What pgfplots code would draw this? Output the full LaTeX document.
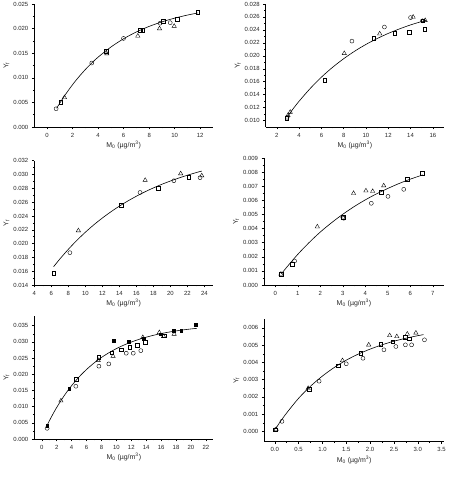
\documentclass[border=0pt]{standalone}
\usepackage{fontspec}
\setmainfont{Liberation Sans}
\usepackage{pgfplots}
\pgfplotsset{compat=1.18}
\pgfplotsset{
  orig/.style={
    scale only axis, anchor=south west,
    axis x line*=bottom, axis y line*=left,
    tick align=outside, major tick length=2.5bp, minor tick length=1.5bp,
    minor x tick num=1, minor y tick num=1,
    tick style={black, line width=0.45pt},
    axis line style={line width=0.6pt},
    /pgf/number format/assume math mode=true,
    ticklabel style={font=\fontsize{6}{7}\selectfont, color=black!85},
    label style={font=\fontsize{7}{8}\selectfont, color=black!85},
    scaled ticks=false,
    y tick label style={/pgf/number format/fixed, /pgf/number format/fixed zerofill, /pgf/number format/precision=3},
    xlabel={M\textsubscript{0} (µg/m\textsuperscript{3})},
    ylabel={Y\textsubscript{f}},
    xlabel style={yshift=3bp},
    ylabel style={yshift=-3bp},
    clip=false,
  },
  pc/.style={only marks, mark=o, mark size=2.0pt, mark options={line width=0.4pt, black}},
  ps/.style={only marks, mark=square, mark size=1.8pt, mark options={line width=0.4pt, black}},
  pt/.style={only marks, mark=triangle, mark size=2.5pt, mark options={line width=0.4pt, black}},
  pf/.style={only marks, mark=square*, mark size=1.2pt, mark options={black, fill=black}},
  fit/.style={no marks, black, line width=0.6pt, smooth},
}
\begin{document}
\begin{tikzpicture}
\useasboundingbox (0bp,0bp) rectangle (449bp,480bp);
% Panel 1
\begin{axis}[orig, at={(34.3bp,353bp)}, width=178.7bp, height=123bp,
  xmin=-1, xmax=13, ymin=0, ymax=0.025, xtick={0,2,...,12}, ytick={0,0.005,...,0.0251}]
\addplot[fit] coordinates {(0.75,0.0038)(1,0.00486)(1.5,0.00683)(2,0.00861)(2.5,0.01022)(3,0.01168)(3.5,0.0130)(4,0.0142)(5,0.01625)(6,0.01794)(7,0.01932)(8,0.02045)(9,0.02137)(10,0.02213)(11,0.02275)(11.8,0.02317)};
\addplot[pc] coordinates {(0.71,0.0037)(3.5,0.0130)(5.99,0.0180)(8.86,0.0211)(9.65,0.0212)};
\addplot[ps] coordinates {(1.07,0.0050)(4.63,0.0154)(7.29,0.0197)(7.5,0.0197)(9.12,0.0215)(10.2,0.0219)(11.79,0.0233)};
\addplot[pt] coordinates {(1.36,0.0060)(4.68,0.0149)(7.11,0.0185)(8.81,0.0200)(9.96,0.0205)};
\end{axis}
% Panel 2
\begin{axis}[orig, at={(265.7bp,353bp)}, width=178.3bp, height=123bp,
  xmin=1, xmax=17, ymin=0.009, ymax=0.028, xtick={2,4,...,16}, ytick={0.010,0.012,...,0.0281}]
\addplot[fit] coordinates {(2.9,0.0105)(3.5,0.0119)(4,0.01299)(5,0.01496)(6,0.0167)(7,0.01822)(8,0.01955)(9,0.02073)(10,0.02176)(11,0.02266)(12,0.02346)(13,0.02415)(14,0.02477)(15,0.0253)(15.4,0.0255)};
\addplot[pc] coordinates {(2.93,0.0105)(8.74,0.02227)(11.65,0.02444)(14.0,0.0259)(15.07,0.0254)};
\addplot[ps] coordinates {(2.9,0.01036)(6.29,0.01619)(10.69,0.02269)(12.58,0.02351)(13.9,0.02362)(15.25,0.02413)(15.1,0.0254)};
\addplot[pt] coordinates {(3.0,0.0108)(3.2,0.0113)(8.05,0.02037)(11.23,0.02341)(14.23,0.02599)(15.31,0.02547)};
\end{axis}
% Panel 3
\begin{axis}[orig, at={(34.3bp,195bp)}, width=178.7bp, height=124.3bp,
  xmin=4, xmax=25, ymin=0.014, ymax=0.032, xtick={4,6,...,24}, ytick={0.014,0.016,...,0.0321}]
\addplot[fit] coordinates {(6.27,0.01665)(7,0.01776)(8,0.01917)(9,0.02046)(10,0.02164)(11,0.02272)(12,0.0237)(13,0.0246)(14,0.02542)(15,0.02617)(16,0.02686)(17,0.02749)(18,0.02806)(19,0.02859)(20,0.02906)(21,0.0295)(22,0.0299)(23,0.03027)(23.68,0.0305)};
\addplot[pc] coordinates {(8.18,0.01868)(16.43,0.0274)(20.4,0.0291)(23.48,0.02954)};
\addplot[ps] coordinates {(6.27,0.01574)(14.2,0.02558)(18.58,0.0280)(22.13,0.02964)};
\addplot[pt] coordinates {(9.18,0.02188)(17.03,0.02918)(21.2,0.03013)(23.68,0.02983)};
\end{axis}
% Panel 4
\begin{axis}[orig, at={(264bp,195bp)}, width=180bp, height=127bp,
  xmin=-0.5, xmax=7.5, ymin=0, ymax=0.009, xtick={0,1,...,7}, ytick={0,0.001,...,0.0091}]
\addplot[fit] coordinates {(0.27,0.00078)(0.5,0.00124)(1,0.00217)(1.5,0.003)(2,0.00375)(2.5,0.00441)(3,0.00501)(3.5,0.00555)(4,0.00603)(4.5,0.00646)(5,0.00684)(5.5,0.00719)(6,0.0075)(6.55,0.0078)};
\addplot[pc] coordinates {(0.86,0.0017)(3.04,0.00473)(3.0,0.0048)(4.27,0.00579)(5.01,0.00628)(5.71,0.00678)};
\addplot[ps] coordinates {(0.27,0.00075)(0.76,0.00149)(3.02,0.0048)(4.72,0.00657)(5.86,0.00751)(6.52,0.00791)};
\addplot[pt] coordinates {(0.25,0.00078)(1.87,0.00413)(3.48,0.0065)(4.03,0.00668)(4.33,0.00664)(4.82,0.00704)};
\end{axis}
% Panel 5
\begin{axis}[orig, at={(34.3bp,41bp)}, width=179bp, height=123bp,
  xmin=-1, xmax=23, ymin=0, ymax=0.038, xtick={0,2,...,22}, ytick={0,0.005,...,0.0351}]
\addplot[fit] coordinates {(0.65,0.0039)(1,0.00553)(1.5,0.00771)(2,0.00974)(3,0.01336)(4,0.01648)(5,0.01917)(6,0.02147)(7,0.02346)(8,0.02518)(9,0.02665)(10,0.02792)(11,0.02901)(12,0.02994)(13,0.03076)(14,0.03145)(15,0.03205)(16,0.03257)(17,0.03301)(18,0.03339)(19,0.03372)(20,0.034)(20.8,0.03419)};
\addplot[pc] coordinates {(0.72,0.0033)(4.57,0.0163)(7.66,0.0225)(8.99,0.0232)(11.33,0.0265)(12.27,0.0265)(13.28,0.0273)};
\addplot[ps] coordinates {(4.61,0.0185)(7.66,0.0253)(9.35,0.0266)(10.67,0.0276)(11.77,0.0283)(12.8,0.0290)(13.9,0.0299)(16.4,0.0319)};
\addplot[pt] coordinates {(2.57,0.0118)(7.57,0.0243)(9.56,0.0256)(13.55,0.0314)(15.76,0.0329)(16.33,0.0317)(17.75,0.0324)};
\addplot[pf] coordinates {(0.72,0.0041)(3.64,0.0156)(9.65,0.0304)(11.68,0.0301)(13.65,0.0310)(15.94,0.0324)(17.71,0.0335)(18.68,0.0335)(20.63,0.0353)};
\end{axis}
% Panel 6
\begin{axis}[orig, at={(264.3bp,38.3bp)}, width=179.7bp, height=122.4bp,
  xmin=-0.22, xmax=3.55, ymin=-0.0006, ymax=0.0065, xtick={0,0.5,...,3.5}, ytick={0,0.001,...,0.0061},
  x tick label style={/pgf/number format/fixed, /pgf/number format/fixed zerofill, /pgf/number format/precision=1}]
\addplot[fit] coordinates {(0.02,0.00016)(0.1,0.0005)(0.25,0.00107)(0.5,0.00192)(0.75,0.00262)(1.0,0.00321)(1.25,0.00371)(1.5,0.00413)(1.75,0.00448)(2.0,0.00477)(2.25,0.00502)(2.5,0.00523)(2.75,0.0054)(3.0,0.00555)(3.12,0.00561)};
\addplot[pc] coordinates {(0.02,0.0001)(0.15,0.00058)(0.93,0.00291)(1.50,0.00392)(1.85,0.00424)(2.29,0.00473)(2.54,0.00492)(2.74,0.00502)(2.87,0.00502)(3.14,0.00531)};
\addplot[ps] coordinates {(0.01,0.0001)(0.72,0.00245)(1.33,0.00382)(1.80,0.00453)(2.22,0.00505)(2.47,0.00521)(2.73,0.00546)(2.82,0.00537)};
\addplot[pt] coordinates {(0.03,0.00012)(0.70,0.0025)(1.42,0.00411)(1.97,0.00502)(2.41,0.00556)(2.56,0.0055)(2.78,0.00565)(2.96,0.00571)};
\end{axis}
\end{tikzpicture}
\end{document}
